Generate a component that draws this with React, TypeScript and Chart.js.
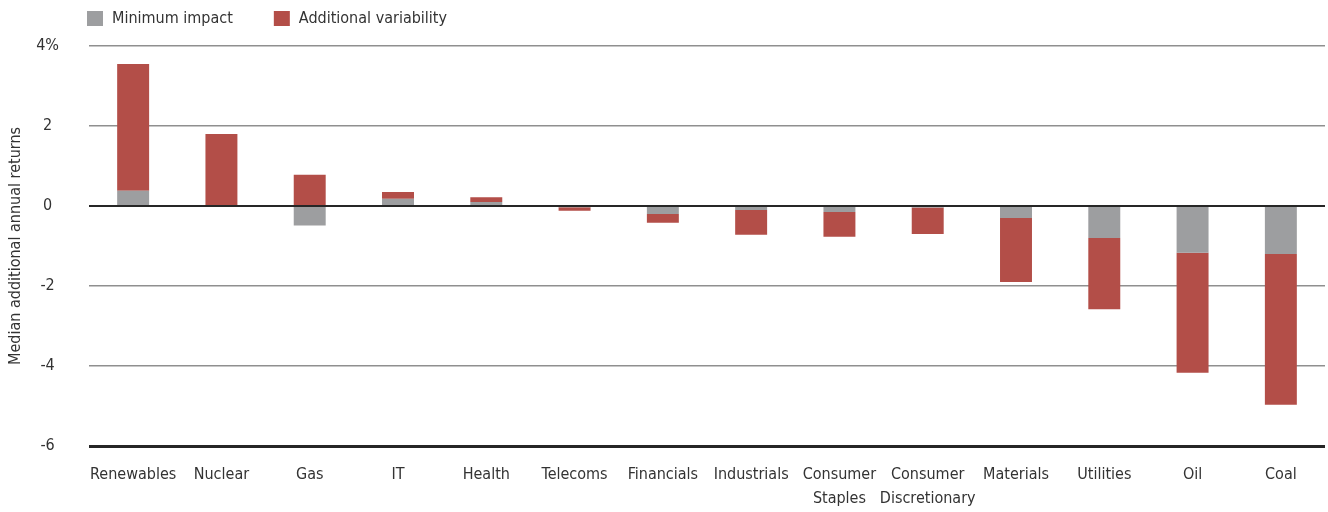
import { useEffect, useRef } from 'react';
import { Chart, registerables } from 'chart.js';

Chart.register(...registerables);

const categories: (string | string[])[] = [
  'Renewables', 'Nuclear', 'Gas', 'IT', 'Health', 'Telecoms', 'Financials', 'Industrials',
  ['Consumer', 'Staples'], ['Consumer', 'Discretionary'], 'Materials', 'Utilities', 'Oil', 'Coal',
];
const minimumImpact = [0.38, 0, -0.49, 0.18, 0.1, -0.03, -0.2, -0.1, -0.15, -0.04, -0.3, -0.8, -1.17, -1.2];
const totalImpact = [3.55, 1.8, 0.78, 0.35, 0.22, -0.12, -0.42, -0.72, -0.77, -0.7, -1.9, -2.58, -4.17, -4.97];
const yTickValues = [4, 2, 0, -2, -4, -6];
const legendLabels = ['Minimum impact', 'Additional variability'];
const yTitle = 'Median additional annual returns';

const GRAY = '#9d9ea0';
const RED = '#b34e48';
const TEXT = '#333333';
const FONT = '"Liberation Sans Narrow", "DejaVu Sans Condensed", "Liberation Sans", sans-serif';

const variabilityStart = minimumImpact.map((m, i) =>
  Math.sign(m) === Math.sign(totalImpact[i]) ? m : 0
);

const legendPlugin = {
  id: 'customLegend',
  afterDraw(chart: any) {
    const ctx = chart.ctx;
    const colors = [GRAY, RED];
    ctx.save();
    ctx.font = `16px ${FONT}`;
    ctx.textBaseline = 'middle';
    ctx.fillStyle = TEXT;
    let x = chart.chartArea.left - 2;
    const y = 11;
    legendLabels.forEach((label, i) => {
      ctx.fillStyle = colors[i];
      ctx.fillRect(x, y, 16, 15);
      ctx.fillStyle = TEXT;
      ctx.textAlign = 'left';
      ctx.fillText(label, x + 25, y + 8);
      x += 25 + ctx.measureText(label).width + 41;
    });
    ctx.restore();
  },
};

export default function App() {
  const ref = useRef<HTMLCanvasElement | null>(null);

  useEffect(() => {
    if (!ref.current) return;
    const chart = new Chart(ref.current, {
      type: 'bar',
      data: {
        labels: categories as any,
        datasets: [
          {
            label: legendLabels[0],
            data: minimumImpact.map((v) => [0, v]) as any,
            backgroundColor: GRAY,
            grouped: false,
            barPercentage: 0.362,
            categoryPercentage: 1,
          } as any,
          {
            label: legendLabels[1],
            data: totalImpact.map((v, i) => [variabilityStart[i], v]) as any,
            backgroundColor: RED,
            grouped: false,
            barPercentage: 0.362,
            categoryPercentage: 1,
          } as any,
        ],
      },
      options: {
        animation: false,
        responsive: true,
        maintainAspectRatio: false,
        layout: { padding: { top: 46, right: 3, left: 0, bottom: 0 } },
        plugins: {
          legend: { display: false },
          tooltip: { enabled: false },
        },
        scales: {
          x: {
            grid: { display: false, drawTicks: false },
            border: { display: false },
            ticks: {
              autoSkip: false,
              maxRotation: 0,
              color: TEXT,
              padding: 17,
              font: { family: FONT, size: 16, lineHeight: 1.5 },
            },
            afterFit: (s: any) => { s.height = 66; },
          },
          y: {
            min: -6,
            max: 4,
            afterBuildTicks: (s: any) => { s.ticks = yTickValues.map((v) => ({ value: v })); },
            grid: {
              drawTicks: false,
              color: (c: any) => (c.tick && (c.tick.value === 0 || c.tick.value === -6) ? '#262626' : '#8f8f8f'),
              lineWidth: (c: any) => (c.tick && c.tick.value === -6 ? 3 : c.tick && c.tick.value === 0 ? 2 : 1.5),
            },
            border: { display: false },
            ticks: {
              color: TEXT,
              padding: 30,
              crossAlign: 'center',
              font: { family: FONT, size: 16 },
              callback: (v: any) => (v === 4 ? '4%' : String(v)),
            },
            title: {
              display: true,
              text: yTitle,
              color: TEXT,
              padding: { top: 6, bottom: 0 },
              font: { family: FONT, size: 16 },
            },
            afterFit: (s: any) => { s.width = 89; },
          },
        },
      },
      plugins: [legendPlugin],
    });
    return () => chart.destroy();
  }, []);

  return (
    <div style={{ position: 'absolute', left: 0, top: 0, width: 1328, height: 512, background: '#fff' }}>
      <canvas ref={ref} />
    </div>
  );
}
